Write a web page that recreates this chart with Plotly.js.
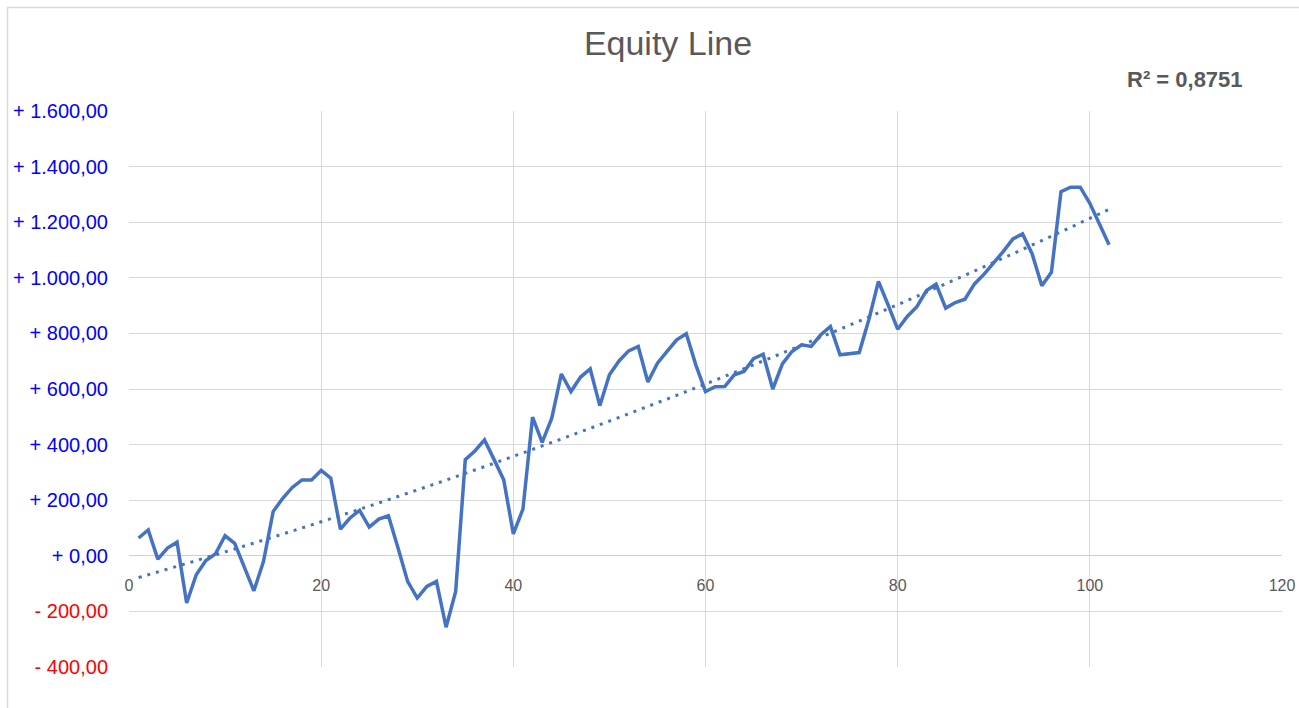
<!DOCTYPE html>
<html>
<head>
<meta charset="utf-8">
<script src="https://cdn.plot.ly/plotly-3.0.1.min.js"></script>
<style>html,body{margin:0;padding:0;background:#fff;}#chart{width:1299px;height:708px;}</style>
</head>
<body>
<div id="chart"></div>
<script>
// Trade number (x) and equity (y)
const tradeIndex = Array.from({length: 102}, (_, i) => i + 1);
const equity = [
  64, 93, -12, 28, 49, -170, -68, -17, 7, 72,
  45, -38, -126, -20, 159, 207, 246, 273, 273, 307,
  279, 96, 136, 163, 103, 132, 144, 28, -92, -152,
  -110, -92, -257, -128, 346, 377, 417, 346, 273, 79,
  168, 499, 408, 495, 654, 591, 643, 672, 540, 651,
  701, 737, 753, 625, 693, 735, 777, 799, 686, 591,
  608, 609, 651, 663, 709, 725, 600, 690, 735, 759,
  753, 795, 825, 723, 727, 731, 849, 987, 903, 815,
  861, 896, 954, 977, 891, 911, 923, 978, 1013, 1053,
  1095, 1140, 1158, 1086, 971, 1020, 1310, 1326, 1326, 1268,
  1197, 1119
];
const yTickVals = [-400, -200, 0, 200, 400, 600, 800, 1000, 1200, 1400, 1600];
const xTickVals = [0, 20, 40, 60, 80, 100, 120];
const rSquaredText = "R² = 0,8751";
const chartTitle = "Equity Line";

function fmt(v) {
  const a = Math.abs(v);
  const intPart = String(Math.floor(a)).replace(/\B(?=(\d{3})+(?!\d))/g, ".");
  const s = (v < 0 ? "- " : "+ ") + intPart + ",00";
  return v < 0 ? '<span style="color:#FF0000">' + s + '</span>' : s;
}
const yTickText = yTickVals.map(fmt);

// least squares polynomial (order 2) trend, as in the source chart
function polyFit(xs, ys, deg) {
  const m = deg + 1;
  const A = Array.from({length: m}, () => new Array(m + 1).fill(0));
  for (let i = 0; i < xs.length; i++) {
    for (let r = 0; r < m; r++) {
      for (let c = 0; c < m; c++) A[r][c] += Math.pow(xs[i], r + c);
      A[r][m] += ys[i] * Math.pow(xs[i], r);
    }
  }
  for (let p = 0; p < m; p++) {
    let best = p;
    for (let r = p + 1; r < m; r++) if (Math.abs(A[r][p]) > Math.abs(A[best][p])) best = r;
    [A[p], A[best]] = [A[best], A[p]];
    for (let r = 0; r < m; r++) {
      if (r === p) continue;
      const f = A[r][p] / A[p][p];
      for (let c = p; c <= m; c++) A[r][c] -= f * A[p][c];
    }
  }
  return A.map((row, i) => row[m] / row[i]);
}
const coef = polyFit(tradeIndex, equity, 2);
const evalPoly = x => coef.reduce((s, c, i) => s + c * Math.pow(x, i), 0);
const trendY = tradeIndex.map(evalPoly);

const L = 129, R = 17, T = 111, B = 41, W = 1299, H = 708;
const pw = W - L - R, ph = H - T - B;
const px = x => (x - L) / pw;
const py = y => (H - y - B) / ph;

const traces = [
  {x: tradeIndex, y: equity, type: 'scatter', mode: 'lines',
   line: {color: '#4472C4', width: 3.5}, hoverinfo: 'x+y', showlegend: false},
  {x: tradeIndex, y: trendY, type: 'scatter', mode: 'lines',
   line: {color: '#4472C4', width: 3, dash: '3px,6px', shape: 'spline'}, hoverinfo: 'skip', showlegend: false}
];

const layout = {
  width: W, height: H, autosize: false,
  margin: {l: L, r: R, t: T, b: B, pad: 0},
  paper_bgcolor: '#ffffff', plot_bgcolor: '#ffffff',
  font: {family: 'Liberation Sans, Arial, sans-serif', color: '#595959'},
  title: {text: chartTitle, font: {size: 34, color: '#595959', family: 'Liberation Sans, Arial, sans-serif'},
          x: px(668), xref: 'paper', xanchor: 'center', y: 1 - 43/H, yref: 'container', yanchor: 'middle'},
  xaxis: {range: [0, 120], tickvals: xTickVals, ticktext: xTickVals.map(String),
          showgrid: true, gridcolor: '#d9d9d9', gridwidth: 1, zeroline: false, showline: false,
          anchor: 'free', position: 0.2,
          ticks: 'outside', ticklen: 15, tickcolor: 'rgba(0,0,0,0)',
          tickfont: {size: 16, color: '#595959'}, fixedrange: true},
  yaxis: {range: [-400, 1600], tickvals: yTickVals, ticktext: yTickText,
          showgrid: true, gridcolor: '#d9d9d9', gridwidth: 1, zeroline: true, zerolinecolor: '#d0d0d0', zerolinewidth: 1,
          showline: false,
          ticks: 'outside', ticklen: 16, tickcolor: 'rgba(0,0,0,0)',
          tickfont: {size: 20, color: '#0000FF'}, fixedrange: true},
  annotations: [
    {text: '<b>' + rSquaredText + '</b>', xref: 'paper', yref: 'paper', x: px(1185), y: py(80),
     xanchor: 'center', yanchor: 'middle', showarrow: false,
     font: {size: 22, color: '#595959', family: 'Liberation Sans, Arial, sans-serif'}}
  ],
  shapes: [
    {type: 'rect', xref: 'paper', yref: 'paper', x0: px(7.5), x1: 1.3, y0: -0.5, y1: py(7.5),
     line: {color: '#d9d9d9', width: 1.5}, fillcolor: 'rgba(0,0,0,0)', layer: 'below'}
  ]
};

Plotly.newPlot('chart', traces, layout, {displayModeBar: false, staticPlot: true});
</script>
</body>
</html>
